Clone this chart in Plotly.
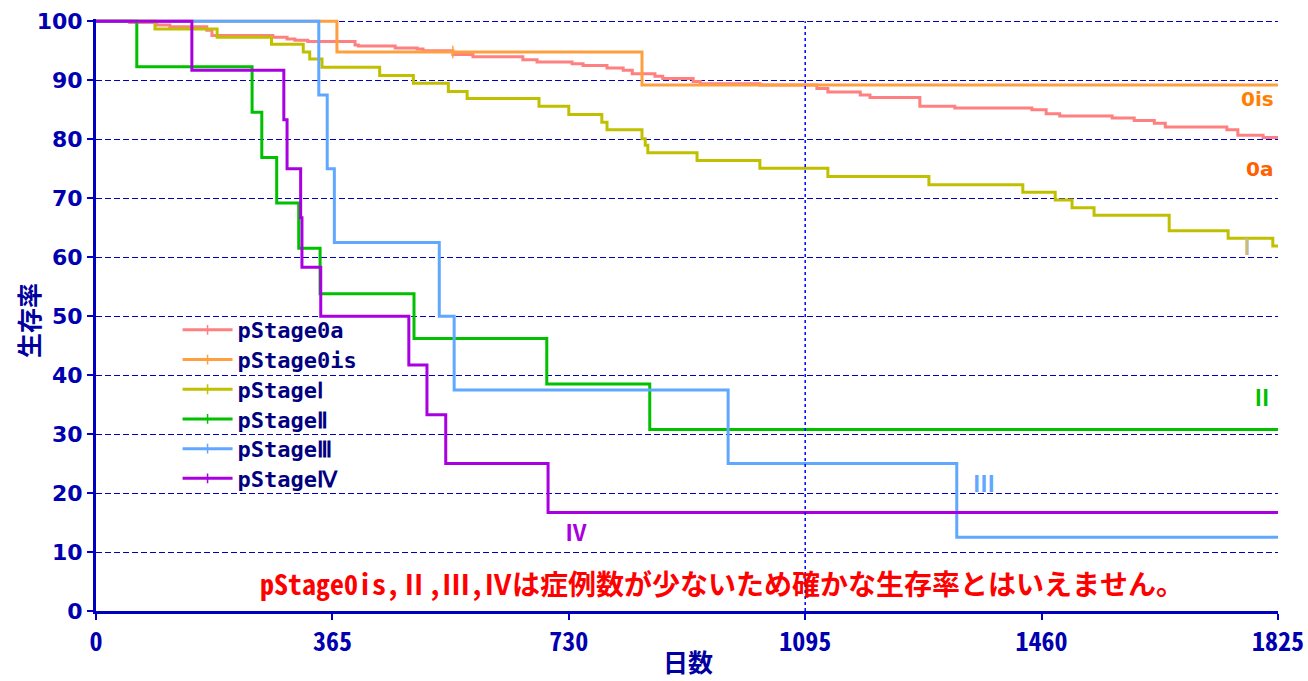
import plotly.graph_objects as go

# ---------------- data ----------------
stage_names = ["pStage0a", "pStage0is", "pStageⅠ", "pStageⅡ", "pStageⅢ", "pStageⅣ"]
stage_colors = ["#ff8080", "#ffa040", "#c0c000", "#00c000", "#60a8ff", "#a800e0"]

days_0a = [0, 52, 94, 114, 171, 179, 273, 295, 307, 327, 400, 405, 462, 496, 505,
           551, 582, 659, 681, 735, 752, 789, 814, 828, 863, 875, 922, 933, 1025,
           1113, 1130, 1180, 1195, 1272, 1326, 1445, 1467, 1488, 1569, 1603, 1634,
           1651, 1746, 1763, 1802, 1825]
surv_0a = [100, 99.8, 99.4, 99.1, 98.5, 97.6, 97.3, 97.0, 96.8, 96.6, 96.0, 95.8, 95.5,
           95.3, 95.0, 94.4, 94.0, 93.5, 93.1, 92.8, 92.5, 92.1, 91.7, 91.1, 90.7, 90.3,
           89.8, 89.4, 89.2, 88.6, 88.0, 87.5, 87.1, 85.6, 85.3, 85.0, 84.35, 83.95,
           83.6, 83.2, 82.7, 82.1, 81.6, 80.7, 80.3, 80.3]

days_0is = [0, 372, 843, 1825]
surv_0is = [100, 94.8, 89.2, 89.2]

days_I = [0, 91, 187, 271, 320, 330, 349, 438, 490, 544, 573, 684, 730, 781, 789, 843,
          848, 852, 928, 1025, 1130, 1286, 1431, 1481, 1507, 1541, 1657, 1748, 1817, 1825]
surv_I = [100, 98.7, 97.3, 96.1, 94.8, 93.6, 92.2, 90.8, 89.5, 88.1, 86.9, 85.6, 84.2,
          82.9, 81.6, 80.1, 79.0, 77.7, 76.4, 75.1, 73.7, 72.3, 71.0, 69.7, 68.4, 67.1,
          64.5, 63.2, 61.9, 61.9]

days_II = [0, 63, 241, 256, 279, 313, 346, 491, 696, 855, 1825]
surv_II = [100, 92.3, 84.6, 76.9, 69.2, 61.5, 53.8, 46.2, 38.5, 30.8, 30.8]

days_III = [0, 344, 357, 368, 530, 553, 976, 1329, 1825]
surv_III = [100, 87.5, 75.0, 62.5, 50.0, 37.5, 25.0, 12.5, 12.5]

days_IV = [0, 148, 290, 295, 316, 318, 347, 483, 511, 540, 698, 1825]
surv_IV = [100, 91.7, 83.3, 75.0, 66.7, 58.3, 50.0, 41.7, 33.3, 25.0, 16.7, 16.7]

censor_days_0is = [551]
censor_surv_0is = [94.8]

x_ticks = [0, 365, 730, 1095, 1460, 1825]
y_ticks = [0, 10, 20, 30, 40, 50, 60, 70, 80, 90, 100]
marker_day = 1095

label_texts = ["0is", "0a", "Ⅰ", "Ⅱ", "Ⅲ", "Ⅳ"]
label_colors = ["#ff8000", "#ff6000", "#c8b888", "#00c000", "#60a8ff", "#a800e0"]
label_x = [1793, 1797, 1777, 1801, 1371, 741]
label_y = [86.9, 74.9, 62.0, 36.4, 21.9, 13.6]

note_text = "pStage0is,Ⅱ,Ⅲ,Ⅳは症例数が少ないため確かな生存率とはいえません。"
x_title = "日数"
y_title = "生存率"

# ---------------- figure ----------------
AXIS = "#0000c0"
MONO = "Noto Sans Mono CJK JP, Noto Sans CJK JP, DejaVu Sans Mono"
series = [(days_0a, surv_0a), (days_0is, surv_0is), (days_I, surv_I),
          (days_II, surv_II), (days_III, surv_III), (days_IV, surv_IV)]

fig = go.Figure()
for (d, s), c in zip(series, stage_colors):
    fig.add_trace(go.Scatter(x=d, y=s, mode="lines", showlegend=False, hoverinfo="skip",
                             line=dict(color=c, width=3, shape="hv")))

fig.add_trace(go.Scatter(x=censor_days_0is, y=censor_surv_0is, mode="markers",
                         showlegend=False, hoverinfo="skip",
                         marker=dict(symbol="line-ns", size=9, color=stage_colors[1],
                                     line=dict(width=1.5, color=stage_colors[1]))))

# legend entries (line with censor tick), one small legend per entry
legend_top_px = 331
legend_step_px = 29.6
legend_layouts = {}
for i, (name, c) in enumerate(zip(stage_names, stage_colors)):
    key = "legend" if i == 0 else f"legend{i + 1}"
    fig.add_trace(go.Scatter(x=[None], y=[None], mode="lines+markers", name=name,
                             legend=key,
                             line=dict(color=c, width=3),
                             marker=dict(symbol="line-ns", size=7, color=c,
                                         line=dict(width=1.5, color=c))))
    ypx = legend_top_px + i * legend_step_px
    legend_layouts[key] = dict(
        x=0.069, y=(611 - ypx) / 590, xanchor="left", yanchor="middle",
        bgcolor="rgba(0,0,0,0)", borderwidth=0, itemwidth=50,
        font=dict(family="DejaVu Sans Mono", size=22, color="#000080", weight="bold"))

fig.add_shape(type="line", xref="x", yref="y", x0=marker_day, x1=marker_day,
              y0=0, y1=100, line=dict(color="#0000ff", width=1.5, dash="dot"))

for t, c, x, y in zip(label_texts, label_colors, label_x, label_y):
    fam = "DejaVu Sans" if t[0] == "0" else MONO
    fig.add_annotation(x=x, y=y, xref="x", yref="y", text=t, showarrow=False,
                       font=dict(family=fam, size=20 if t[0] == "0" else 22,
                                 color=c, weight="bold"))

fig.add_annotation(x=966, y=4.75, xref="x", yref="y", text=note_text, showarrow=False,
                   font=dict(family=MONO, size=28, color="#ff0000", weight="bold"))

fig.add_annotation(x=0.5008, y=-0.1186, xref="paper", yref="paper", text=x_title,
                   showarrow=False, yanchor="bottom",
                   font=dict(family="Noto Sans CJK JP", size=25, color="#0000a0", weight="bold"))
fig.add_annotation(x=-0.0575, y=0.49, xref="paper", yref="paper", text=y_title,
                   showarrow=False, textangle=-90, xanchor="center", yanchor="middle",
                   font=dict(family="Noto Sans CJK JP", size=25, color="#0000a0", weight="bold"))

fig.update_layout(
    width=1308, height=681,
    margin=dict(l=96, r=30, t=19, b=70, autoexpand=False),
    paper_bgcolor="white", plot_bgcolor="white",
    showlegend=True,
    xaxis=dict(range=[0, 1825], tickvals=x_ticks, showgrid=False, zeroline=False,
               automargin=False,
               showline=True, linecolor=AXIS, linewidth=3,
               ticks="outside", ticklen=6, tickwidth=2, tickcolor=AXIS,
               tickfont=dict(family=MONO, size=26, color="#0000b0", weight="bold")),
    yaxis=dict(range=[0, 100.4], tickvals=y_ticks, showgrid=True, gridcolor=AXIS,
               gridwidth=1, griddash="6px,3px", zeroline=False,
               automargin=False,
               showline=True, linecolor=AXIS, linewidth=3,
               ticks="outside", ticklen=6, tickwidth=2, tickcolor=AXIS,
               tickfont=dict(family="DejaVu Sans", size=22, color="#0000b0", weight="bold")),
    **legend_layouts,
)

fig.write_html("out.html", config={"displayModeBar": False},
               post_script="document.body.style.margin='0';document.body.style.overflow='hidden';")
